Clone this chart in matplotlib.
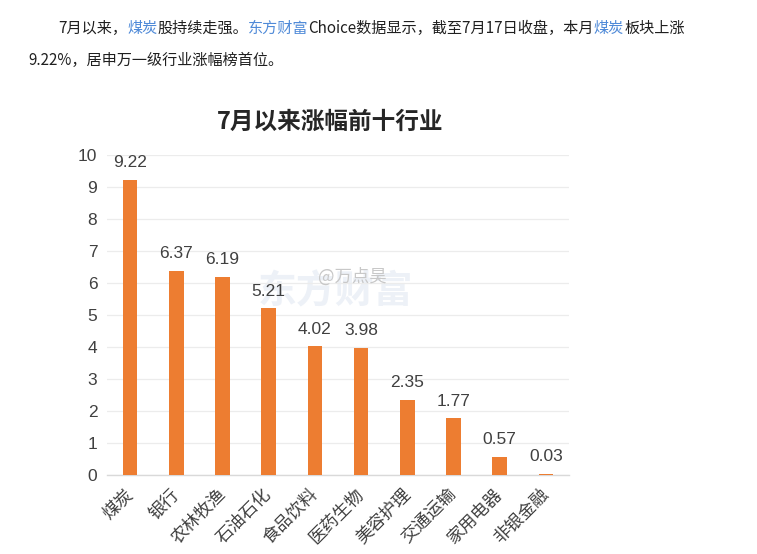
import matplotlib.pyplot as plt
import numpy as np
import matplotlib as mpl

mpl.rcParams.update({
    'font.family': ['Liberation Sans', 'Noto Sans CJK SC', 'DejaVu Sans'],
    'axes.linewidth': 1,
})

# Data
industries = ['煤炭', '银行', '农林牧渔', '石油石化', '食品饮料', '医药生物',
              '美容护理', '交通运输', '家用电器', '非银金融']
gains = [9.22, 6.37, 6.19, 5.21, 4.02, 3.98, 2.35, 1.77, 0.57, 0.03]
yticks = list(range(0, 11))

title = '7月以来涨幅前十行业'
line1 = [('7月以来，', 'k'), ('煤炭', 'b'), ('股持续走强。', 'k'), ('东方财富', 'b'),
         ('Choice数据显示，截至7月17日收盘，本月', 'k'), ('煤炭', 'b'), ('板块上涨', 'k')]
line2 = [('9.22%，居申万一级行业涨幅榜首位。', 'k')]

W, H = 757, 554
fig = plt.figure(figsize=(W / 100, H / 100), dpi=100)
fig.patch.set_facecolor('white')

cjk = ['Noto Sans CJK SC', 'DejaVu Sans']
colors = {'k': '#1f1f1f', 'b': '#4f8ad8'}

# Article text above the chart, drawn piece by piece
renderer = fig.canvas.get_renderer()
def draw_line(x_px, y_px, segments):
    x = x_px
    for s, c in segments:
        t = fig.text(x / W, 1 - y_px / H, s, color=colors[c], fontsize=10.9,
                     family='Noto Sans CJK SC', va='center', ha='left')
        x = t.get_window_extent(renderer).x1

draw_line(58, 28, line1)
draw_line(28, 60, line2)

# Chart axes
ax = fig.add_axes([107 / W, 1 - 475 / H, 462 / W, 320 / H])
x = np.arange(len(industries))
ax.bar(x, gains, width=0.32, color='#ed7d31', zorder=3)

for xi, v in zip(x, gains):
    ax.annotate(f'{v:.2f}', (xi, v), xytext=(0, 7), textcoords='offset points',
                ha='center', va='bottom', fontsize=12.5, color='#404040', zorder=6)

ax.set_xlim(-0.5, len(industries) - 0.5)
ax.set_ylim(0, 10)
ax.set_yticks(yticks)
ax.set_yticklabels([str(t) for t in yticks], fontsize=12.5, color='#404040')
ax.set_xticks(x)
ax.set_xticklabels(industries, rotation=45, ha='right', va='center',
                   rotation_mode='anchor', fontsize=12.5, color='#404040', family=cjk)
ax.tick_params(axis='both', length=0)
ax.tick_params(axis='y', pad=7)
ax.tick_params(axis='x', pad=12)

ax.yaxis.grid(True, color='#ececec', linewidth=0.9, zorder=0)
for side in ['top', 'right', 'left']:
    ax.spines[side].set_visible(False)
ax.spines['bottom'].set_color('#d9d9d9')

# Title
fig.text(330 / W, 1 - 122 / H, title, fontsize=17, fontweight='bold',
         color='#262626', ha='center', va='center', family=cjk)

# Watermarks (faint, behind the bars and value labels)
ax.text(335 / W, 1 - 292 / H, '东方财富', fontsize=28, fontweight='bold',
        color='#edf1f7', ha='center', va='center', family=cjk, zorder=1,
        transform=fig.transFigure)
ax.text(318 / W, 1 - 277 / H, '@万点昊', fontsize=12.5,
        color='#c8c8c8', ha='left', va='center', family=cjk, zorder=2,
        transform=fig.transFigure)

plt.savefig('out.png', dpi=100, facecolor='white')
plt.close()
